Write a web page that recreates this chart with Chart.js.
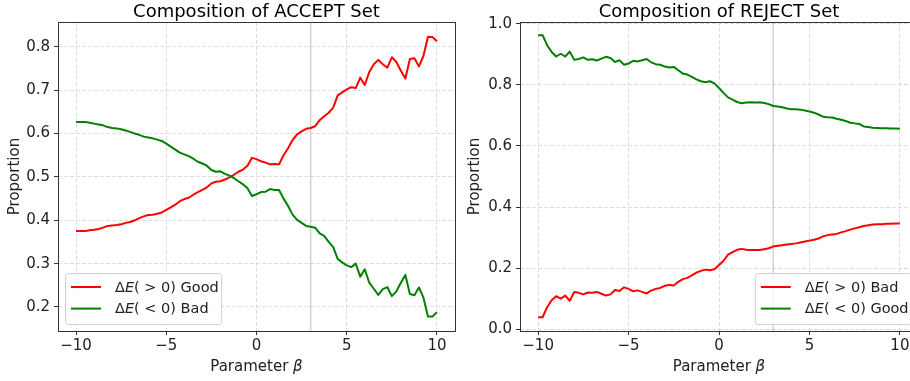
<!DOCTYPE html>
<html lang="en">
<head>
<meta charset="UTF-8">
<title>Composition of ACCEPT / REJECT sets</title>
<script src="https://cdn.jsdelivr.net/npm/chart.js"></script>
<style>
  html, body { margin: 0; padding: 0; background: #fff; overflow: hidden; }
  body { width: 910px; height: 381px; position: relative; }
  canvas { position: absolute; top: 0; }
  #acceptChart { left: 0; }
  #rejectChart { left: 460px; }
</style>
</head>
<body>
<canvas id="acceptChart" width="460" height="381"></canvas>
<canvas id="rejectChart" width="460" height="381"></canvas>
<script>
// beta grid (read every 0.25)
const beta = [
  -10, -9.75, -9.5, -9.25, -9, -8.75, -8.5, -8.25, -8, -7.75, -7.5, -7.25, -7, -6.75, -6.5, -6.25, -6, -5.75, -5.5, -5.25, -5,
  -4.75, -4.5, -4.25, -4, -3.75, -3.5, -3.25, -3, -2.75, -2.5, -2.25, -2, -1.75, -1.5, -1.25, -1, -0.75, -0.5, -0.25, 0,
  0.25, 0.5, 0.75, 1, 1.25, 1.5, 1.75, 2, 2.25, 2.5, 2.75, 3, 3.25, 3.5, 3.75, 4, 4.25, 4.5, 4.75, 5,
  5.25, 5.5, 5.75, 6, 6.25, 6.5, 6.75, 7, 7.25, 7.5, 7.75, 8, 8.25, 8.5, 8.75, 9, 9.25, 9.5, 9.75, 10
];

// ACCEPT set
const acceptGood = [
  0.375, 0.375, 0.375, 0.377, 0.378, 0.380, 0.383, 0.387, 0.388, 0.389, 0.391, 0.394, 0.396, 0.400, 0.405, 0.409, 0.412, 0.413, 0.415, 0.418, 0.424,
  0.430, 0.436, 0.444, 0.449, 0.452, 0.459, 0.465, 0.470, 0.476, 0.485, 0.489, 0.490, 0.494, 0.499, 0.505, 0.512, 0.517, 0.526, 0.544, 0.541,
  0.536, 0.533, 0.529, 0.530, 0.529, 0.550, 0.566, 0.585, 0.598, 0.605, 0.611, 0.613, 0.617, 0.631, 0.640, 0.648, 0.660, 0.688, 0.695, 0.702,
  0.707, 0.705, 0.729, 0.712, 0.742, 0.760, 0.770, 0.760, 0.752, 0.776, 0.765, 0.745, 0.727, 0.772, 0.774, 0.755, 0.779, 0.823, 0.823, 0.813
];
const acceptBad = [
  0.627, 0.627, 0.627, 0.625, 0.623, 0.621, 0.619, 0.615, 0.613, 0.612, 0.610, 0.607, 0.604, 0.600, 0.597, 0.593, 0.591, 0.589, 0.586, 0.583, 0.577,
  0.570, 0.563, 0.556, 0.552, 0.548, 0.542, 0.535, 0.531, 0.526, 0.516, 0.512, 0.513, 0.507, 0.503, 0.497, 0.490, 0.483, 0.474, 0.456, 0.460,
  0.465, 0.466, 0.472, 0.470, 0.470, 0.450, 0.433, 0.413, 0.401, 0.394, 0.387, 0.385, 0.383, 0.370, 0.364, 0.350, 0.338, 0.311, 0.303, 0.296,
  0.292, 0.300, 0.270, 0.287, 0.256, 0.242, 0.228, 0.241, 0.246, 0.225, 0.236, 0.256, 0.274, 0.230, 0.227, 0.245, 0.222, 0.178, 0.178, 0.188
];

// REJECT set
const rejectBad = [
  0.039, 0.039, 0.072, 0.095, 0.108, 0.100, 0.110, 0.093, 0.122, 0.119, 0.114, 0.120, 0.119, 0.122, 0.116, 0.110, 0.114, 0.128, 0.125, 0.137, 0.132,
  0.124, 0.127, 0.122, 0.117, 0.126, 0.132, 0.135, 0.142, 0.145, 0.143, 0.155, 0.164, 0.168, 0.176, 0.185, 0.191, 0.195, 0.193, 0.196, 0.210,
  0.224, 0.244, 0.252, 0.260, 0.263, 0.260, 0.259, 0.259, 0.259, 0.262, 0.265, 0.271, 0.273, 0.275, 0.277, 0.279, 0.281, 0.284, 0.287, 0.290,
  0.293, 0.297, 0.304, 0.308, 0.310, 0.312, 0.317, 0.321, 0.326, 0.330, 0.334, 0.338, 0.340, 0.343, 0.344, 0.344, 0.345, 0.345, 0.346, 0.346
];
const rejectGood = [
  0.963, 0.963, 0.930, 0.908, 0.893, 0.902, 0.893, 0.909, 0.882, 0.885, 0.890, 0.882, 0.884, 0.880, 0.886, 0.892, 0.888, 0.875, 0.881, 0.866, 0.870,
  0.879, 0.877, 0.881, 0.885, 0.874, 0.868, 0.866, 0.860, 0.857, 0.859, 0.848, 0.837, 0.834, 0.826, 0.818, 0.812, 0.809, 0.812, 0.805, 0.790,
  0.774, 0.759, 0.752, 0.744, 0.740, 0.742, 0.743, 0.742, 0.743, 0.741, 0.737, 0.731, 0.729, 0.727, 0.723, 0.720, 0.720, 0.719, 0.716, 0.713,
  0.709, 0.703, 0.696, 0.694, 0.693, 0.689, 0.686, 0.682, 0.676, 0.674, 0.672, 0.664, 0.662, 0.660, 0.659, 0.658, 0.658, 0.657, 0.657, 0.656
];

const xTicks = [-10, -5, 0, 5, 10];
const acceptYTicks = [0.2, 0.3, 0.4, 0.5, 0.6, 0.7, 0.8];
const rejectYTicks = [0, 0.2, 0.4, 0.6, 0.8, 1.0];
const betaMarker = 3;

const FONT = "'DejaVu Sans', sans-serif";

// draw text made of [text, italic] pieces
function richText(ctx, parts, x, y, size, align) {
  const widths = parts.map(([t, it]) => {
    ctx.font = (it ? 'italic ' : '') + size + 'px ' + FONT;
    return ctx.measureText(t).width;
  });
  const total = widths.reduce((a, b) => a + b, 0);
  let cx = align === 'center' ? x - total / 2 : x;
  ctx.textAlign = 'left';
  parts.forEach(([t, it], i) => {
    ctx.font = (it ? 'italic ' : '') + size + 'px ' + FONT;
    ctx.fillText(t, cx, y);
    cx += widths[i];
  });
  return total;
}

function textWidth(ctx, parts, size) {
  return parts.reduce((s, [t, it]) => {
    ctx.font = (it ? 'italic ' : '') + size + 'px ' + FONT;
    return s + ctx.measureText(t).width;
  }, 0);
}

const decor = {
  id: 'decor',
  beforeDatasetsDraw(chart) {
    const { ctx, chartArea: a, scales: { x } } = chart;
    const px = x.getPixelForValue(betaMarker);
    ctx.save();
    ctx.strokeStyle = 'rgba(128,128,128,0.35)';
    ctx.lineWidth = 1.5;
    ctx.beginPath();
    ctx.moveTo(px, a.top);
    ctx.lineTo(px, a.bottom);
    ctx.stroke();
    ctx.restore();
  },
  afterDraw(chart, args, opts) {
    const { ctx, chartArea: a } = chart;
    const cx = (a.left + a.right) / 2;
    ctx.save();

    // axes frame
    ctx.strokeStyle = '#333';
    ctx.lineWidth = 1;
    ctx.strokeRect(Math.round(a.left) + 0.5, Math.round(a.top) + 0.5,
                   Math.round(a.right - a.left), Math.round(a.bottom - a.top));

    // title
    ctx.fillStyle = '#000';
    ctx.textBaseline = 'alphabetic';
    ctx.textAlign = 'center';
    ctx.font = '18px ' + FONT;
    ctx.fillText(opts.title, cx, 17);

    // x axis label
    ctx.fillStyle = '#222';
    richText(ctx, [['Parameter ', false], ['\u03b2', true]], cx, 371, 15, 'center');

    // legend
    const items = opts.items;
    const tw = Math.max(...items.map(it => textWidth(ctx, it.label, 14)));
    const bw = 50 + tw + 6, bh = 51;
    const bx = opts.legendSide === 'left' ? a.left + 7 : a.right - 7 - bw;
    const by = a.bottom - 7 - bh;
    ctx.beginPath();
    ctx.roundRect(bx + 0.5, by + 0.5, bw, bh, 3);
    ctx.fillStyle = 'rgba(255,255,255,0.8)';
    ctx.fill();
    ctx.strokeStyle = '#d0d0d0';
    ctx.lineWidth = 1;
    ctx.stroke();
    items.forEach((it, i) => {
      const ry = by + 14 + i * 21.6;
      ctx.strokeStyle = it.color;
      ctx.lineWidth = 2;
      ctx.beginPath();
      ctx.moveTo(bx + 6, ry);
      ctx.lineTo(bx + 36, ry);
      ctx.stroke();
      ctx.fillStyle = '#222';
      ctx.textBaseline = 'middle';
      richText(ctx, it.label, bx + 50, ry + 1, 14.5, 'left');
    });
    ctx.restore();
  }
};

function fmtBeta(v) {
  return v < 0 ? '\u2212' + Math.abs(v) : String(v);
}

function buildChart(id, cfg) {
  const points = vals => beta.map((b, i) => ({ x: b, y: vals[i] }));
  return new Chart(document.getElementById(id), {
    type: 'line',
    data: {
      datasets: [
        { label: 'red', data: points(cfg.redVals), borderColor: 'red', borderWidth: 2,
          pointRadius: 0, tension: 0, borderJoinStyle: 'round', order: 1 },
        { label: 'green', data: points(cfg.greenVals), borderColor: 'green', borderWidth: 2,
          pointRadius: 0, tension: 0, borderJoinStyle: 'round', order: 0 }
      ]
    },
    options: {
      responsive: false,
      animation: false,
      events: [],
      layout: { padding: { top: 22, left: 0, right: cfg.padRight, bottom: 0 } },
      plugins: {
        legend: { display: false },
        tooltip: { enabled: false },
        decor: { title: cfg.title, items: cfg.items, legendSide: cfg.legendSide }
      },
      scales: {
        x: {
          type: 'linear', min: -11, max: 11,
          afterBuildTicks: s => { s.ticks = xTicks.map(v => ({ value: v })); },
          afterFit: s => { s.height = 50; },
          grid: { color: '#dedede', lineWidth: 1, tickLength: 4, tickColor: '#333', tickWidth: 1 },
          border: { display: false, dash: [4, 2] },
          ticks: { font: { family: FONT, size: 15 }, color: '#222', padding: 2, maxRotation: 0,
                   autoSkip: false, callback: v => fmtBeta(v) }
        },
        y: {
          type: 'linear', min: cfg.yMin, max: cfg.yMax,
          afterBuildTicks: s => { s.ticks = cfg.yTicks.map(v => ({ value: v })); },
          afterFit: s => { s.width = cfg.yWidth; },
          grid: { color: '#dedede', lineWidth: 1, tickLength: 4, tickColor: '#333', tickWidth: 1 },
          border: { display: false, dash: [4, 2] },
          ticks: { font: { family: FONT, size: 15 }, color: '#222', padding: 4,
                   callback: v => v.toFixed(1) },
          title: { display: true, text: 'Proportion', color: '#222',
                   font: { family: FONT, size: 15 }, padding: { top: 6, bottom: 0 } }
        }
      }
    },
    plugins: [decor]
  });
}

buildChart('acceptChart', {
  title: 'Composition of ACCEPT Set',
  redVals: acceptGood, greenVals: acceptBad,
  yMin: 0.1446, yMax: 0.8574, yTicks: acceptYTicks,
  yWidth: 58, padRight: 5, legendSide: 'left',
  items: [
    { color: 'red', label: [['\u0394', false], ['E', true], ['( > 0) Good', false]] },
    { color: 'green', label: [['\u0394', false], ['E', true], ['( < 0) Bad', false]] }
  ]
});

buildChart('rejectChart', {
  title: 'Composition of REJECT Set',
  redVals: rejectBad, greenVals: rejectGood,
  yMin: -0.006, yMax: 1.006, yTicks: rejectYTicks,
  yWidth: 60, padRight: 2, legendSide: 'right',
  items: [
    { color: 'red', label: [['\u0394', false], ['E', true], ['( > 0) Bad', false]] },
    { color: 'green', label: [['\u0394', false], ['E', true], ['( < 0) Good', false]] }
  ]
});
</script>
</body>
</html>
